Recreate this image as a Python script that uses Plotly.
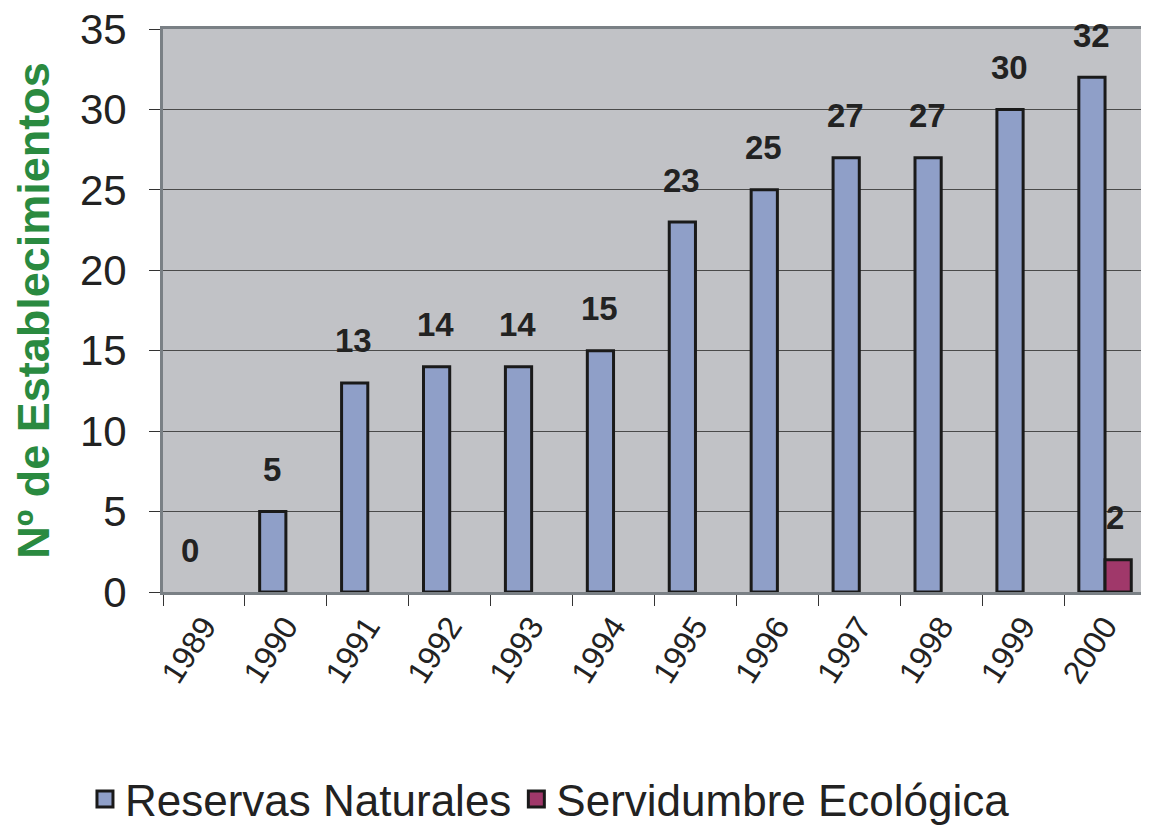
import plotly.graph_objects as go

years = ["1989", "1990", "1991", "1992", "1993", "1994", "1995", "1996", "1997", "1998", "1999", "2000"]
reservas = [0, 5, 13, 14, 14, 15, 23, 25, 27, 27, 30, 32]
servidumbre = [None, None, None, None, None, None, None, None, None, None, None, 2]

FONT = "Liberation Sans, Arial, sans-serif"
BLUE = "#8f9fc8"
PURPLE = "#a0386a"
EDGE = "#1a1a1a"

fig = go.Figure()
fig.add_trace(go.Bar(x=years, y=reservas, name="Reservas Naturales", showlegend=False,
                     marker=dict(color=BLUE,
                                 line=dict(color=EDGE, width=[0 if v == 0 else 3 for v in reservas]))))
fig.add_trace(go.Bar(x=years, y=servidumbre, name="Servidumbre Ecológica", showlegend=False,
                     marker=dict(color=PURPLE, line=dict(color=EDGE, width=3))))
# legend entries with larger square swatches
for name, col in [("Reservas Naturales", BLUE), ("Servidumbre Ecológica", PURPLE)]:
    fig.add_trace(go.Scatter(x=[None], y=[None], mode="markers", name=name,
                             marker=dict(symbol="square", size=27, color=col, line=dict(color=EDGE, width=3))))

# value labels (category index positions on the category axis)
for i, v in enumerate(reservas):
    fig.add_annotation(x=i, y=v, xref="x", yref="y", text=f"<b>{v}</b>", showarrow=False,
                       yshift=42, xshift=-14, font=dict(family=FONT, size=33, color="#222"))
for i, v in enumerate(servidumbre):
    if v is not None:
        fig.add_annotation(x=i, y=v, xref="x", yref="y", text=f"<b>{v}</b>", showarrow=False,
                           yshift=42, xshift=10, font=dict(family=FONT, size=33, color="#222"))

fig.update_layout(
    width=1141, height=820,
    margin=dict(l=155, r=3, t=21, b=236, autoexpand=False),
    paper_bgcolor="white", plot_bgcolor="#c1c2c6",
    barmode="group", bargap=0.36, bargroupgap=0,
    font=dict(family=FONT, color="#222"),
    showlegend=True,
    legend=dict(orientation="h", x=0.475, xanchor="center", xref="container",
                y=0.035, yanchor="middle", yref="container",
                font=dict(size=44, family=FONT, color="#222")),
)
fig.update_yaxes(range=[0, 35], dtick=5, tickfont=dict(size=42), ticks="outside", ticklen=11,
                 tickcolor="#333", gridcolor="#4a4a4a", gridwidth=1, showline=True, linecolor="#7a8085",
                 linewidth=3, zeroline=False, ticklabelstandoff=14, ticklabeloverflow="allow",
                 title=dict(text="<b>Nº de Establecimientos</b>", font=dict(size=45, color="#2a8a40"),
                            standoff=26))
fig.update_xaxes(type="category", range=[-0.5, len(years) - 0.5], tickangle=-57,
                 tickfont=dict(size=32), ticks="outside", ticklen=11, tickson="boundaries",
                 tickcolor="#333", showline=True, linecolor="#7a8085", linewidth=3, mirror=True)
fig.write_html("out.html")
